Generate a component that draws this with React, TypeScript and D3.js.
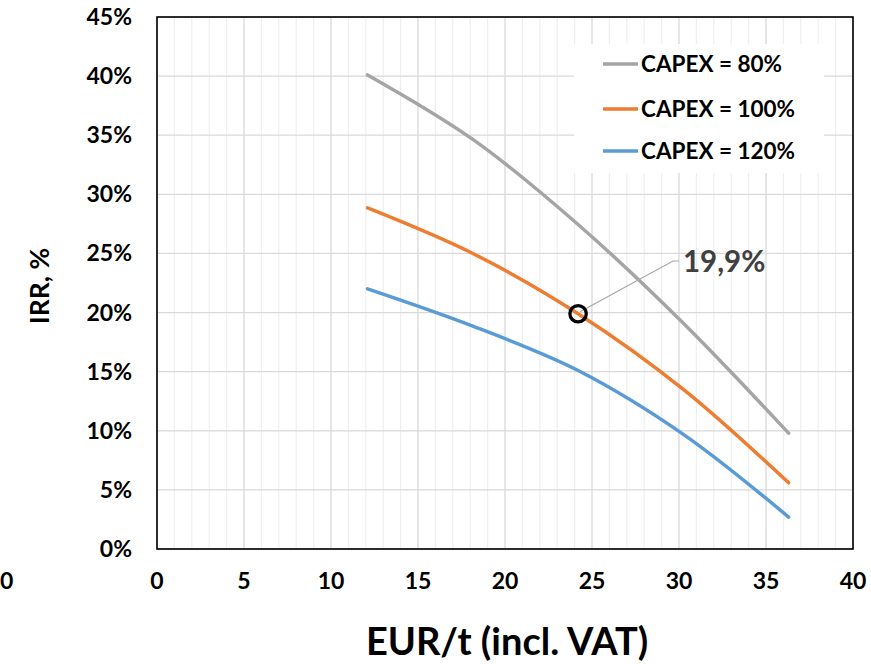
import React from "react";
import * as d3 from "d3";

const xValues = [12.1, 18.15, 24.2, 30.25, 36.3];
const capex80 = [40.1, 34.65, 27.45, 19.1, 9.8];
const capex100 = [28.85, 25.0, 19.9, 13.5, 5.6];
const capex120 = [22.0, 18.85, 15.1, 9.7, 2.7];
const seriesNames = ["CAPEX = 80%", "CAPEX = 100%", "CAPEX = 120%"];
const seriesColors = ["#A5A5A5", "#ED7D31", "#5B9BD5"];
const xTicks = [0, 5, 10, 15, 20, 25, 30, 35, 40];
const yTicks = [0, 5, 10, 15, 20, 25, 30, 35, 40, 45];
const markerPoint = { x: 24.2, y: 19.9, label: "19,9%" };

const W = 871;
const H = 664;
const FONT = "Lato, 'Open Sans', sans-serif";

export default function App() {
  const x = d3.scaleLinear().domain([0, 40]).range([157, 853]);
  const y = d3.scaleLinear().domain([0, 45]).range([549, 17]);
  const series = [capex80, capex100, capex120];
  const line = d3
    .line<number>()
    .x((_, i) => x(xValues[i]))
    .y((d) => y(d))
    .curve(d3.curveCatmullRom.alpha(0.5));

  const minor = d3.range(0, 41, 1).filter((v) => v % 5 !== 0);
  const mx = x(markerPoint.x);
  const my = y(markerPoint.y);

  const legendX = 574;
  const legendY = 44;
  const legendRows = [64, 109, 151];

  return (
    <svg
      width={W}
      height={H}
      style={{ position: "absolute", left: 0, top: 0, background: "#fff" }}
    >
      <rect x={0} y={0} width={W} height={H} fill="#fff" />
      {minor.map((v) => (
        <line
          key={"mv" + v}
          x1={x(v)}
          x2={x(v)}
          y1={y(45)}
          y2={y(0)}
          stroke="#EFEFEF"
          strokeWidth={1.2}
        />
      ))}
      {xTicks.map((v) => (
        <line
          key={"Mv" + v}
          x1={x(v)}
          x2={x(v)}
          y1={y(45)}
          y2={y(0)}
          stroke="#D9D9D9"
          strokeWidth={1.3}
        />
      ))}
      {yTicks.map((v) => (
        <line
          key={"h" + v}
          x1={x(0)}
          x2={x(40)}
          y1={y(v)}
          y2={y(v)}
          stroke="#D9D9D9"
          strokeWidth={1.3}
        />
      ))}
      <rect x={legendX} y={legendY} width={250} height={129} fill="#fff" />
      <rect
        x={x(0)}
        y={y(45)}
        width={x(40) - x(0)}
        height={y(0) - y(45)}
        fill="none"
        stroke="#000"
        strokeWidth={1.6}
      />
      {series.map((s, i) => (
        <path
          key={"s" + i}
          d={line(s) || ""}
          fill="none"
          stroke={seriesColors[i]}
          strokeWidth={3.5}
          strokeLinecap="round"
          strokeLinejoin="round"
        />
      ))}
      <polyline
        points={`${mx + 2},${my - 2} ${673},${261} ${679},${261}`}
        fill="none"
        stroke="#A6A6A6"
        strokeWidth={1.2}
      />
      <circle cx={mx} cy={my} r={8.2} fill="none" stroke="#000" strokeWidth={3.3} />
      <text
        x={683}
        y={272}
        fontFamily={FONT}
        fontWeight={700}
        fontSize={29.5}
        fill="#404040"
      >
        {markerPoint.label}
      </text>
      {seriesNames.map((n, i) => (
        <g key={"l" + i}>
          <line
            x1={603}
            x2={638}
            y1={legendRows[i]}
            y2={legendRows[i]}
            stroke={seriesColors[i]}
            strokeWidth={3.5}
          />
          <text
            x={641}
            y={legendRows[i] + 8}
            fontFamily={FONT}
            fontWeight={700}
            fontSize={22.5}
            fill="#000"
          >
            {n}
          </text>
        </g>
      ))}
      {yTicks.map((v) => (
        <text
          key={"yt" + v}
          x={132}
          y={y(v) + 8}
          textAnchor="end"
          fontFamily={FONT}
          fontWeight={700}
          fontSize={23}
          fill="#000"
        >
          {v + "%"}
        </text>
      ))}
      {xTicks.map((v) => (
        <text
          key={"xt" + v}
          x={x(v)}
          y={589}
          textAnchor="middle"
          fontFamily={FONT}
          fontWeight={700}
          fontSize={23}
          fill="#000"
        >
          {v}
        </text>
      ))}
      <text
        x={0}
        y={589}
        textAnchor="start"
        fontFamily={FONT}
        fontWeight={700}
        fontSize={23}
        fill="#000"
      >
        0
      </text>
      <text
        x={507}
        y={655}
        textAnchor="middle"
        fontFamily={FONT}
        fontWeight={700}
        fontSize={38}
        fill="#000"
      >
        EUR/t (incl. VAT)
      </text>
      <text
        transform={`translate(49, ${(y(0) + y(45)) / 2 + 3}) rotate(-90)`}
        textAnchor="middle"
        fontFamily={FONT}
        fontWeight={700}
        fontSize={26.5}
        fill="#000"
      >
        IRR, %
      </text>
    </svg>
  );
}
